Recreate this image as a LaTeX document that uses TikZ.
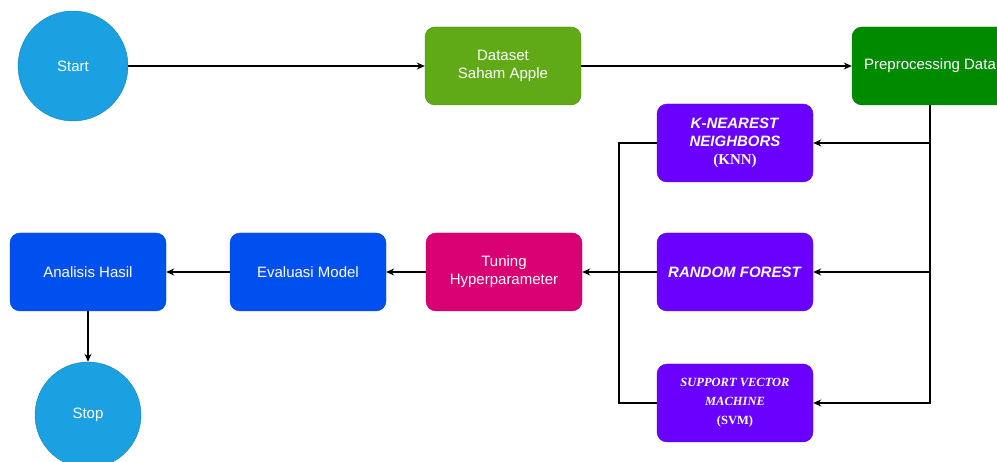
\documentclass[tikz,border=0pt]{standalone}
\usepackage{fontspec}
\setmainfont{Liberation Sans}
\newfontfamily\timesfont{Liberation Serif}
\usetikzlibrary{arrows.meta,positioning}
\definecolor{circblue}{HTML}{1BA1E2}
\definecolor{dataGreen}{HTML}{60A917}
\definecolor{prepGreen}{HTML}{008A00}
\definecolor{algoViolet}{HTML}{6A00FF}
\definecolor{tuneMagenta}{HTML}{D80073}
\definecolor{evalBlue}{HTML}{0050EF}

\begin{document}
\begin{tikzpicture}[x=1pt,y=-1pt,
		box/.style={draw=#1!80!black,fill=#1,rounded corners=10pt,minimum width=156pt,minimum height=78pt,
			text=white,align=center,font=\fontsize{15}{18}\selectfont,inner sep=2pt},
		term/.style={circle,draw=circblue!80!black,fill=circblue,minimum size=110pt,text=white,
			font=\fontsize{15}{18}\selectfont},
		flow/.style={-{Stealth[length=8pt,width=7pt]},line width=1.2pt}]
			\useasboundingbox (0,0) rectangle (997,462);
			\node[term] (start) at (73,66) {Start};
			\node[box=dataGreen] (dataset) at (503,66) {Dataset\\Saham Apple};
			\node[box=prepGreen] (prepro) at (930,66) {Preprocessing Data};
			\node[box=algoViolet] (knn) at (735,143) {\textbf{\textit{K-NEAREST}}\\\textbf{\textit{NEIGHBORS}}\\{\timesfont\bfseries (KNN)}};
			\node[box=algoViolet] (rf) at (735,272) {\textbf{\textit{RANDOM FOREST}}};
			\node[box=algoViolet,font=\timesfont\fontsize{12.5}{19}\selectfont] (svm) at (735,403) {\textbf{\textit{SUPPORT VECTOR}}\\\textbf{\textit{MACHINE}}\\\textbf{(SVM)}};
			\node[box=tuneMagenta] (tuning) at (504,272) {Tuning\\Hyperparameter};
			\node[box=evalBlue] (evaluasi) at (308,272) {Evaluasi Model};
			\node[box=evalBlue] (analisis) at (88,272) {Analisis Hasil};
			\node[term,minimum size=106pt] (stop) at (88,415) {Stop};
			\coordinate (busl) at (619,272);
			% top row
			\draw[flow] (start) -- (dataset);
			\draw[flow] (dataset) -- (prepro);
			% split to the three models
			\foreach \m in {knn,rf,svm}
				\draw[flow] (prepro.south) |- (\m.east);
			% join into tuning
			\draw[line width=1.2pt] (knn.west) -| (busl);
			\draw[line width=1.2pt] (svm.west) -| (busl);
			\draw[flow] (rf.west) -- (tuning.east);
			\draw[flow] (tuning) -- (evaluasi);
			\draw[flow] (evaluasi) -- (analisis);
			\draw[flow] (analisis) -- (stop);
		\end{tikzpicture}
\end{document}
